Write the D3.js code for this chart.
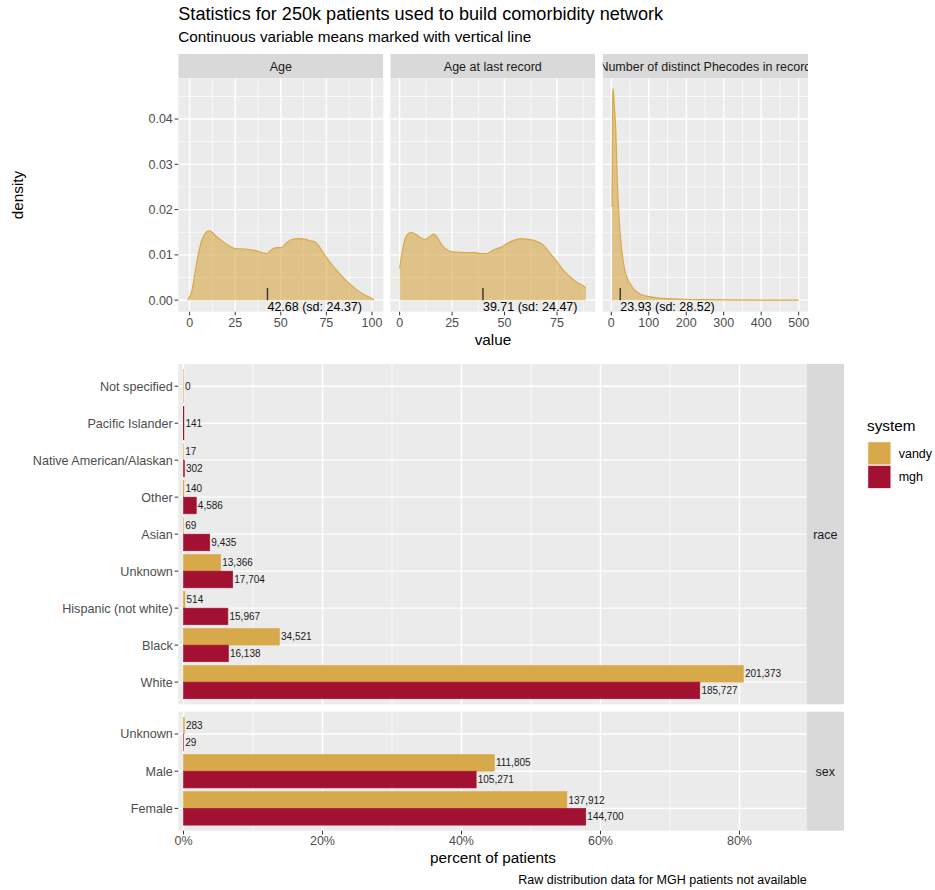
<!DOCTYPE html>
<html>
<head>
<meta charset="utf-8">
<script src="https://cdn.jsdelivr.net/npm/d3@7"></script>
<style>
  body { margin: 0; background: #fff; }
  text { font-family: "Liberation Sans", Arial, Helvetica, sans-serif; }
</style>
</head>
<body>
<svg id="chart" width="935" height="890"></svg>
<script>
// ---- Continuous variables: estimated density curves (vandy patients) ----
const ageX = [-1.1, 1.1, 2.9, 4.8, 7.5, 10.6, 12.1, 14.8, 17.5, 21.2, 24.9, 30.4, 36.7, 40.4, 42.2, 45, 47.7, 50.4, 53.2, 55.9, 59.6, 63.3, 66, 68.7, 70.6, 74.2, 79.7, 85.2, 90.7, 96.2, 100.7, 101.1];
const ageDensity = [0.0002, 0.0018, 0.0059, 0.0103, 0.0140, 0.0153, 0.0151, 0.0140, 0.0132, 0.0121, 0.0114, 0.0113, 0.0109, 0.0104, 0.0103, 0.0112, 0.0116, 0.0116, 0.0127, 0.0134, 0.0136, 0.0135, 0.0131, 0.0129, 0.0121, 0.0099, 0.0070, 0.0046, 0.0026, 0.0011, 0.0002, 0.0001];

const lastRecordX = [0, 1.1, 2.7, 5.1, 7.5, 9.9, 12.2, 14.3, 16.2, 17.8, 20.2, 23.4, 26.5, 32.1, 36.1, 38.4, 41.6, 44, 46.4, 48.8, 51.2, 54.3, 57.5, 60.7, 64.6, 68.6, 71.8, 75, 78.1, 82.1, 85.3, 87.4, 88.8];
const lastRecordDensity = [0.0070, 0.0103, 0.0136, 0.0149, 0.0146, 0.0138, 0.0134, 0.0140, 0.0146, 0.0140, 0.0121, 0.0109, 0.0106, 0.0105, 0.0105, 0.0103, 0.0103, 0.0109, 0.0114, 0.0118, 0.0125, 0.0132, 0.0136, 0.0135, 0.0131, 0.0121, 0.0103, 0.0085, 0.0066, 0.0048, 0.0037, 0.0032, 0.0026];

const phecodeX = [2, 3.5, 5, 8, 12, 16, 21, 27, 36, 50, 68, 94, 139, 192, 250, 320, 400, 500];
const phecodeDensity = [0.0206, 0.0440, 0.0467, 0.0430, 0.0375, 0.0265, 0.0177, 0.0118, 0.0066, 0.0037, 0.0018, 0.0009, 0.0004, 0.0002, 0.0001, 0.00005, 0.00002, 0.00001];

const panelTitles = ["Age", "Age at last record", "Number of distinct Phecodes in record"];
const means = [42.68, 39.71, 23.93];
const sds = [24.37, 24.47, 28.52];

const densityTicks = [0, 0.01, 0.02, 0.03, 0.04];
const ageTicks = [0, 25, 50, 75, 100];
const lastRecordTicks = [0, 25, 50, 75];
const phecodeTicks = [0, 100, 200, 300, 400, 500];

// ---- Categorical variables: patient counts per system ----
const systems = ["vandy", "mgh"];
const raceCategories = ["Not specified", "Pacific Islander", "Native American/Alaskan", "Other", "Asian", "Unknown", "Hispanic (not white)", "Black", "White"];
const raceVandy = [0, null, 17, 140, 69, 13366, 514, 34521, 201373];
const raceMgh = [null, 141, 302, 4586, 9435, 17704, 15967, 16138, 185727];

const sexCategories = ["Unknown", "Male", "Female"];
const sexVandy = [283, 111805, 137912];
const sexMgh = [29, 105271, 144700];

const percentTicks = [0, 20, 40, 60, 80];

// ---- Styling ----
const colors = { vandy: "#D8A94B", mgh: "#A31132" };
const panelBg = "#EBEBEB", stripBg = "#D9D9D9";
const tickColor = "#333333", tickText = "#4D4D4D", stripText = "#1A1A1A";
const meanMarkTop = 0.0027;

const svg = d3.select("#chart");
svg.append("rect").attr("width", 935).attr("height", 890).attr("fill", "#fff");

// Titles
svg.append("text").attr("x", 178.3).attr("y", 19.5).attr("font-size", 18.1).attr("fill", "#000")
  .text("Statistics for 250k patients used to build comorbidity network");
svg.append("text").attr("x", 178.3).attr("y", 41.5).attr("font-size", 15.3).attr("fill", "#000")
  .text("Continuous variable means marked with vertical line");

// ---------------- Density facets ----------------
const densityPanels = [
  { title: panelTitles[0], xs: ageX, ys: ageDensity, ticks: ageTicks, left: 178.3, right: 383.3, mean: means[0], sd: sds[0] },
  { title: panelTitles[1], xs: lastRecordX, ys: lastRecordDensity, ticks: lastRecordTicks, left: 390.3, right: 595.3, mean: means[1], sd: sds[1] },
  { title: panelTitles[2], xs: phecodeX, ys: phecodeDensity, ticks: phecodeTicks, left: 602.7, right: 808, mean: means[2], sd: sds[2] }
];

const dTop = 78.3, dBottom = 311.7, stripTop = 54;
const yD = d3.scaleLinear().domain([-0.00255, 0.049]).range([dBottom, dTop]);
const densityMinor = densityTicks.map(t => t + 0.005).filter(t => t < yD.domain()[1]);
const fmt2 = d3.format(".2f");

densityPanels.forEach((p, pi) => {
  const [e0, e1] = d3.extent(p.xs);
  const pad = (e1 - e0) * 0.05;
  const x = d3.scaleLinear().domain([e0 - pad, e1 + pad]).range([p.left, p.right]);
  const g = svg.append("g");

  g.append("rect").attr("x", p.left).attr("y", dTop).attr("width", p.right - p.left)
    .attr("height", dBottom - dTop).attr("fill", panelBg);

  const step = p.ticks[1] - p.ticks[0];
  const xMinor = d3.range(p.ticks[0] - step / 2, e1 + pad, step)
    .filter(v => v > x.domain()[0] && v < x.domain()[1]);

  g.selectAll(".ymin").data(densityMinor).join("line")
    .attr("x1", p.left).attr("x2", p.right).attr("y1", d => yD(d)).attr("y2", d => yD(d))
    .attr("stroke", "#fff").attr("stroke-width", 0.7);
  g.selectAll(".xmin").data(xMinor).join("line")
    .attr("x1", d => x(d)).attr("x2", d => x(d)).attr("y1", dTop).attr("y2", dBottom)
    .attr("stroke", "#fff").attr("stroke-width", 0.7);
  g.selectAll(".ymaj").data(densityTicks).join("line")
    .attr("x1", p.left).attr("x2", p.right).attr("y1", d => yD(d)).attr("y2", d => yD(d))
    .attr("stroke", "#fff").attr("stroke-width", 1.4);
  g.selectAll(".xmaj").data(p.ticks).join("line")
    .attr("x1", d => x(d)).attr("x2", d => x(d)).attr("y1", dTop).attr("y2", dBottom)
    .attr("stroke", "#fff").attr("stroke-width", 1.4);

  const pts = p.xs.map((v, i) => [v, p.ys[i]]);
  const area = d3.area().x(d => x(d[0])).y0(yD(0)).y1(d => yD(d[1])).curve(d3.curveMonotoneX);
  const line = d3.line().x(d => x(d[0])).y(d => yD(d[1])).curve(d3.curveMonotoneX);
  g.append("path").attr("d", area(pts)).attr("fill", colors.vandy).attr("fill-opacity", 0.62);
  g.append("path").attr("d", line(pts)).attr("fill", "none").attr("stroke", colors.vandy).attr("stroke-width", 1.2);

  // mean marker and label
  g.append("line").attr("x1", x(p.mean)).attr("x2", x(p.mean))
    .attr("y1", yD(0)).attr("y2", yD(meanMarkTop))
    .attr("stroke", "#333").attr("stroke-width", 1.4);
  g.append("text").attr("x", x(p.mean)).attr("y", yD(0) + 10.8).attr("font-size", 12.5).attr("fill", "#000")
    .text(`${fmt2(p.mean)} (sd: ${fmt2(p.sd)})`);

  // strip
  const clipId = "strip-clip-" + pi;
  svg.append("clipPath").attr("id", clipId).append("rect")
    .attr("x", p.left).attr("y", stripTop).attr("width", p.right - p.left).attr("height", dTop - stripTop);
  const sg = svg.append("g").attr("clip-path", `url(#${clipId})`);
  sg.append("rect").attr("x", p.left).attr("y", stripTop).attr("width", p.right - p.left)
    .attr("height", dTop - stripTop).attr("fill", stripBg);
  sg.append("text").attr("x", (p.left + p.right) / 2).attr("y", (stripTop + dTop) / 2 + 4.4)
    .attr("text-anchor", "middle").attr("font-size", 12.5).attr("fill", stripText).text(p.title);

  // x axis
  const ax = g.append("g");
  ax.selectAll("line").data(p.ticks).join("line")
    .attr("x1", d => x(d)).attr("x2", d => x(d)).attr("y1", dBottom).attr("y2", dBottom + 3.7)
    .attr("stroke", tickColor).attr("stroke-width", 1);
  ax.selectAll("text").data(p.ticks).join("text")
    .attr("x", d => x(d)).attr("y", dBottom + 15.5).attr("text-anchor", "middle")
    .attr("font-size", 12.5).attr("fill", tickText).text(d => d);

  if (pi === 0) {
    const ay = g.append("g");
    ay.selectAll("line").data(densityTicks).join("line")
      .attr("x1", p.left - 3.7).attr("x2", p.left).attr("y1", d => yD(d)).attr("y2", d => yD(d))
      .attr("stroke", tickColor).attr("stroke-width", 1);
    ay.selectAll("text").data(densityTicks).join("text")
      .attr("x", p.left - 5.5).attr("y", d => yD(d) + 4.4).attr("text-anchor", "end")
      .attr("font-size", 12.5).attr("fill", tickText).text(d => d3.format(".2f")(d));
  }
});

svg.append("text").attr("x", 493).attr("y", 345).attr("text-anchor", "middle")
  .attr("font-size", 15.3).attr("fill", "#000").text("value");
svg.append("text").attr("transform", "translate(23,195) rotate(-90)").attr("text-anchor", "middle")
  .attr("font-size", 15.3).attr("fill", "#000").text("density");

// ---------------- Categorical facets ----------------
const barLeft = 178.3, barRight = 806.7, stripRight = 844;
const xP = d3.scaleLinear().domain([-0.748, 89.67]).range([barLeft, barRight]);
const pctMinor = percentTicks.map(t => t + 10).filter(t => t < xP.domain()[1]);
const fmtN = d3.format(",");

const facets = [
  { name: "race", cats: raceCategories, series: { vandy: raceVandy, mgh: raceMgh }, top: 364, bottom: 704.3 },
  { name: "sex", cats: sexCategories, series: { vandy: sexVandy, mgh: sexMgh }, top: 711.7, bottom: 830.7 }
];

facets.forEach((f, fi) => {
  const y = d3.scalePoint().domain(f.cats).range([f.top, f.bottom]).padding(0.6);
  const half = y.step() * 0.45;
  const g = svg.append("g");
  g.append("rect").attr("x", barLeft).attr("y", f.top).attr("width", barRight - barLeft)
    .attr("height", f.bottom - f.top).attr("fill", panelBg);

  g.selectAll(".xmin").data(pctMinor).join("line")
    .attr("x1", d => xP(d)).attr("x2", d => xP(d)).attr("y1", f.top).attr("y2", f.bottom)
    .attr("stroke", "#fff").attr("stroke-width", 0.7);
  g.selectAll(".xmaj").data(percentTicks).join("line")
    .attr("x1", d => xP(d)).attr("x2", d => xP(d)).attr("y1", f.top).attr("y2", f.bottom)
    .attr("stroke", "#fff").attr("stroke-width", 1.4);
  g.selectAll(".ymaj").data(f.cats).join("line")
    .attr("x1", barLeft).attr("x2", barRight).attr("y1", d => y(d)).attr("y2", d => y(d))
    .attr("stroke", "#fff").attr("stroke-width", 1.4);

  const totals = {};
  systems.forEach(s => totals[s] = d3.sum(f.series[s].filter(v => v != null)));

  const bars = [];
  f.cats.forEach((c, i) => {
    const present = systems.filter(s => f.series[s][i] != null);
    present.forEach((s, k) => {
      const n = f.series[s][i];
      const pct = n / totals[s] * 100;
      let y0, y1;
      if (present.length === 1) { y0 = y(c) - half; y1 = y(c) + half; }
      else { y0 = y(c) - half + k * half; y1 = y0 + half; }
      bars.push({ s, n, pct, y0, y1 });
    });
  });

  g.selectAll(".bar").data(bars).join("rect")
    .attr("x", xP(0)).attr("y", d => d.y0)
    .attr("width", d => Math.max(0.01, xP(d.pct) - xP(0))).attr("height", d => d.y1 - d.y0)
    .attr("fill", d => colors[d.s]).attr("stroke", d => colors[d.s]).attr("stroke-width", 0.6);
  g.selectAll(".lab").data(bars).join("text")
    .attr("x", d => xP(d.pct) + 1.6).attr("y", d => (d.y0 + d.y1) / 2 + 3.6)
    .attr("font-size", 10).attr("fill", "#1A1A1A").text(d => fmtN(d.n));

  // left axis
  g.selectAll(".tk").data(f.cats).join("line")
    .attr("x1", barLeft - 3.7).attr("x2", barLeft).attr("y1", d => y(d)).attr("y2", d => y(d))
    .attr("stroke", tickColor).attr("stroke-width", 1);
  g.selectAll(".tl").data(f.cats).join("text")
    .attr("x", barLeft - 5.5).attr("y", d => y(d) + 4.4).attr("text-anchor", "end")
    .attr("font-size", 12.6).attr("fill", tickText).text(d => d);

  // right strip
  g.append("rect").attr("x", barRight).attr("y", f.top).attr("width", stripRight - barRight)
    .attr("height", f.bottom - f.top).attr("fill", stripBg);
  g.append("text").attr("x", (barRight + stripRight) / 2).attr("y", (f.top + f.bottom) / 2 + 4.4)
    .attr("text-anchor", "middle").attr("font-size", 12.5).attr("fill", stripText).text(f.name);

  if (fi === facets.length - 1) {
    g.selectAll(".bt").data(percentTicks).join("line")
      .attr("x1", d => xP(d)).attr("x2", d => xP(d)).attr("y1", f.bottom).attr("y2", f.bottom + 3.7)
      .attr("stroke", tickColor).attr("stroke-width", 1);
    g.selectAll(".bl").data(percentTicks).join("text")
      .attr("x", d => xP(d)).attr("y", f.bottom + 14.5).attr("text-anchor", "middle")
      .attr("font-size", 12.5).attr("fill", tickText).text(d => d + "%");
  }
});

svg.append("text").attr("x", 493).attr("y", 863).attr("text-anchor", "middle")
  .attr("font-size", 15.3).attr("fill", "#000").text("percent of patients");
svg.append("text").attr("x", 806.7).attr("y", 884).attr("text-anchor", "end")
  .attr("font-size", 12.5).attr("fill", "#000").text("Raw distribution data for MGH patients not available");

// Legend
const lg = svg.append("g");
lg.append("text").attr("x", 867).attr("y", 431).attr("font-size", 15.3).attr("fill", "#000").text("system");
systems.forEach((s, i) => {
  lg.append("rect").attr("x", 867.7).attr("y", 441.7 + i * 23.5).attr("width", 23.3).attr("height", 23.5)
    .attr("fill", colors[s]).attr("stroke", "#fff").attr("stroke-width", 1);
  lg.append("text").attr("x", 898.7).attr("y", 441.7 + i * 23.5 + 11.75 + 4.4)
    .attr("font-size", 12.5).attr("fill", "#000").text(s);
});
</script>
</body>
</html>
